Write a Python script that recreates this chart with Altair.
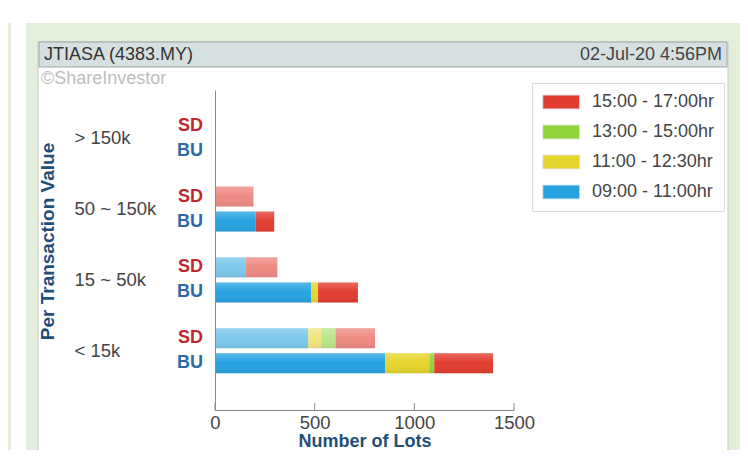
import altair as alt
import pandas as pd

# ---------------- data ----------------
categories = ["> 150k", "50 ~ 150k", "15 ~ 50k", "< 15k"]
sides = ["SD", "BU"]
periods = ["09:00 - 11:00hr", "11:00 - 12:30hr", "13:00 - 15:00hr", "15:00 - 17:00hr"]

# Number of lots per category (same order as categories)
bu_0900 = [0, 203, 483, 853]
bu_1100 = [0, 0, 34, 222]
bu_1300 = [0, 0, 0, 25]
bu_1500 = [0, 94, 200, 295]
sd_0900 = [0, 0, 155, 467]
sd_1100 = [0, 0, 0, 66]
sd_1300 = [0, 0, 0, 72]
sd_1500 = [0, 193, 158, 198]

x_ticks = [0, 500, 1000, 1500]

title_left = "JTIASA (4383.MY)"
title_right = "02-Jul-20 4:56PM"
watermark = "©ShareInvestor"

# ---------------- tables ----------------
series = {
    ("BU", periods[0]): bu_0900, ("BU", periods[1]): bu_1100,
    ("BU", periods[2]): bu_1300, ("BU", periods[3]): bu_1500,
    ("SD", periods[0]): sd_0900, ("SD", periods[1]): sd_1100,
    ("SD", periods[2]): sd_1300, ("SD", periods[3]): sd_1500,
}
rows = []
for (side, per), vals in series.items():
    for cat, v in zip(categories, vals):
        if v > 0:
            rows.append({"cat": cat, "side": side, "period": per,
                         "ord": periods.index(per), "lots": v})
df = pd.DataFrame(rows)
labels_df = pd.DataFrame([{"cat": c, "side": s} for c in categories for s in sides])
ticks_df = pd.DataFrame({"v": x_ticks})

FONT = "Liberation Sans"
AXIS_BLUE = "#1f4e79"
legend_order = periods[::-1]
legend_colors = ["#e23d31", "#8fd33b", "#e6d52e", "#27a3e0"]

xscale = alt.Scale(domain=[0, 1500], nice=False)
xaxis = alt.Axis(values=x_ticks, format="d", ticks=False, grid=False, domainColor="#8a8a8a",
                 labelFontSize=18.5, labelColor="#444444", labelFont=FONT, labelPadding=3,
                 labelFlush=False, titleFontSize=18, titleFont=FONT, titleColor=AXIS_BLUE,
                 titleFontWeight="bold", titleY=31, titleBaseline="middle", zindex=2)


def xenc(field):
    return alt.X(field, scale=xscale, axis=xaxis, title="Number of Lots")


yenc = alt.Y("cat:N",
             scale=alt.Scale(domain=categories, paddingInner=0, paddingOuter=0.26, align=0.35),
             axis=alt.Axis(ticks=False, grid=False, domainColor="#8a8a8a", labelAlign="left",
                           labelBaseline="middle", labelPadding=141, labelFontSize=18.5,
                           labelColor="#444444", labelFont=FONT, titleFont=FONT,
                           titleFontSize=19, titleFontWeight="bold", titleColor=AXIS_BLUE,
                           titleX=-168, titleY=151, titleAlign="center", titleBaseline="middle",
                           titleAngle=270, zindex=2),
             title="Per Transaction Value")
yoff = alt.YOffset("side:N", scale=alt.Scale(domain=sides, paddingInner=0.2, paddingOuter=0.514))

one = alt.Data(values=[{}])

# decorations (page frame)
green_bg = alt.Chart(one).mark_rect(fill="#e3efdb").encode(
    x=alt.value(-189), x2=alt.value(530), y=alt.value(-67), y2=alt.value(400))
green_strip = alt.Chart(one).mark_rect(fill="#e3efdb").encode(
    x=alt.value(-210), x2=alt.value(-204), y=alt.value(-67), y2=alt.value(400))
panel = alt.Chart(one).mark_rect(fill="white", stroke="#c8c8c8", strokeWidth=1).encode(
    x=alt.value(-177), x2=alt.value(513), y=alt.value(-48), y2=alt.value(400))
header = alt.Chart(one).mark_rect(fill="#d6e0e1", stroke="#9ea6a6", strokeWidth=1).encode(
    x=alt.value(-176), x2=alt.value(512), y=alt.value(-48), y2=alt.value(-23))
head_l = alt.Chart(one).mark_text(text=title_left, align="left", baseline="middle",
                                  fontSize=18, font=FONT, color="#333333").encode(
    x=alt.value(-171), y=alt.value(-35))
head_r = alt.Chart(one).mark_text(text=title_right, align="right", baseline="middle",
                                  fontSize=18, font=FONT, color="#444444").encode(
    x=alt.value(507), y=alt.value(-35))
wm = alt.Chart(one).mark_text(text=watermark, align="left", baseline="middle",
                              fontSize=18, font=FONT, color="#bdbdbd").encode(
    x=alt.value(-174), y=alt.value(-11))

base = alt.Chart(df).transform_stack(
    stack="lots", as_=["x0", "x1"], groupby=["cat", "side"], sort=[alt.SortField("ord")])

bars = base.mark_bar().encode(
    x=xenc("x0:Q"), x2="x1:Q", y=yenc, yOffset=yoff,
    color=alt.Color("period:N", scale=alt.Scale(domain=legend_order, range=legend_colors),
                    legend=alt.Legend(title=None, orient="none", legendX=317, legendY=-7,
                                      padding=9, strokeColor="#dddddd", fillColor="white",
                                      labelFontSize=18, labelFont=FONT, labelColor="#444444",
                                      symbolType="M-0.89,-0.76H3.11V0.76H-0.89Z", symbolSize=342,
                                      symbolStrokeColor="#e4e4e4", symbolStrokeWidth=1,
                                      rowPadding=10, labelOffset=31)),
    opacity=alt.Opacity("side:N", scale=alt.Scale(domain=sides, range=[0.6, 1.0]), legend=None),
)

shine = base.mark_bar(fill=alt.Gradient(
    gradient="linear", x1=0, x2=0, y1=0, y2=1,
    stops=[alt.GradientStop(color="rgba(255,255,255,0.22)", offset=0),
           alt.GradientStop(color="rgba(255,255,255,0)", offset=0.5),
           alt.GradientStop(color="rgba(0,0,0,0.08)", offset=1)])).encode(
    x=xenc("x0:Q"), x2="x1:Q", y=yenc, yOffset=yoff)

tick_rules = alt.Chart(ticks_df).mark_rule(color="#8a8a8a").encode(
    x=xenc("v:Q"), y=alt.value(313), y2=alt.value(320))

side_colors = {"SD": "#c0272d", "BU": "#2d6aa3"}
side_text = [
    alt.Chart(labels_df).transform_filter(alt.datum.side == s).mark_text(
        align="right", baseline="middle", fontSize=18, fontWeight="bold", font=FONT,
        color=side_colors[s]).encode(x=alt.value(-12), y=yenc, yOffset=yoff, text="side:N")
    for s in sides
]

chart = alt.layer(
    green_bg, green_strip, panel, header, head_l, head_r, wm,
    bars, shine, tick_rules, *side_text
).properties(
    width=299, height=320,
    autosize=alt.AutoSizeParams(type="none"),
    padding={"left": 207, "top": 82, "right": 226, "bottom": 40},
    background="white",
).configure_view(stroke=None)

chart.save("out.html", embed_options={"renderer": "svg", "actions": False})
